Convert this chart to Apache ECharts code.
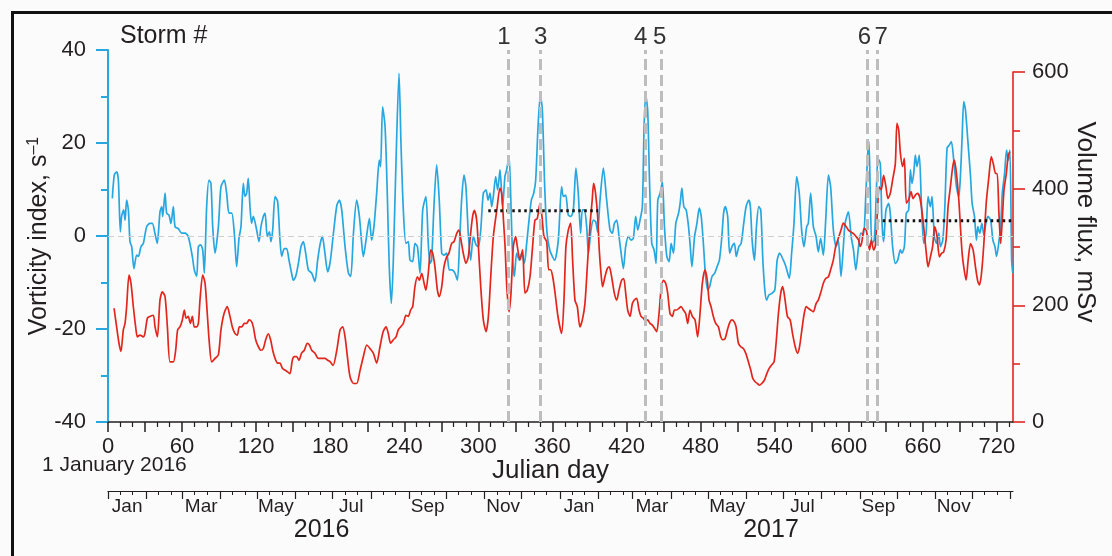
<!DOCTYPE html>
<html><head><meta charset="utf-8">
<script src="https://cdn.jsdelivr.net/npm/echarts@6/dist/echarts.min.js"></script>
<style>html,body{margin:0;padding:0;background:#fbfbfb}#c{width:1112px;height:556px}</style>
</head><body><div id="c"></div>
<script>
// ---------- data ----------
const vortDay = [3.5,5.1,7.0,8.4,10,11,12.7,13.8,15.1,16.5,17.8,19.2,21,23.2,24.6,26.7,28.6,31.3,34,35.9,38,39.9,42.1,43.5,44.3,46.2,47.5,49.4,51,52.9,54.3,56.9,59.7,62.4,65,68.3,69.9,71.8,73.2,75,76.7,78,79.9,81.8,83.4,84.8,86.7,89.4,91.5,94.2,96.1,98,100.2,102.3,104.2,106.1,107.7,109.6,110.9,112.3,113.6,115,116.3,117.7,120.4,122.3,123.9,125.8,127.2,129,130.7,132,133.4,135.3,137.4,139.3,140.7,142.8,144.7,146.6,148.7,150.1,152,154.2,156.3,158.2,160.1,162.3,165,167.6,169.8,171.7,173.6,175.7,177.9,
180,182.6,185.3,187.4,189.3,192,194.7,196.6,198.8,201.4,203.6,205.5,206.8,209,211.7,213.5,215.4,217.6,219.7,220.8,222.4,224.4,226.2,227.8,229.5,231.1,233.3,235.7,237.3,239.2,241.3,243.2,244.6,246.8,248.6,250.6,252.7,254.9,257.5,259.4,260.8,262.1,264,266.2,268.3,270.3,272.1,274.3,276.4,278.6,281,283,284.6,286.4,288.3,289.9,291.8,293.7,295.9,298.1,300,301.9,304,306.2,307.8,309.4,310.8,312.1,314,315.6,317.5,319.6,321.5,322.9,324.8,326.1,327.8,329.1,331,333.2,335.1,337.2,339.1,341,342.9,344.8,346.4,348.3,350.2,351.8,353.7,355.6,357.8,359.9,361.8,
364.7,367.4,368.8,370.7,372.8,375,376.9,379,380.9,382.8,384.2,385.8,387.7,389.1,391.2,393.1,395,396.6,398.5,401.2,403.9,406.6,408.5,410.1,412,413.9,415.6,417.4,419.3,421.5,423.6,425.5,427.4,429.1,430.9,432.8,434.2,435.5,437.1,438.5,440.4,442.3,443.9,445.3,447.2,449,450.7,452.6,454.5,456.1,458,459.9,462.1,463.4,464.8,466.4,468.3,470.2,471.6,472.9,475.1,477,478.9,480.5,482.4,483.8,485.7,487.3,489.2,491.4,493.3,495.2,497.2,498.6,500,501.9,503.5,505.4,507.3,508.9,510.9,512.8,514.9,516.8,519,520.3,521.7,523.6,525.2,527.1,528.7,530.4,532,533.4,535.3,538,540.1,542,544,
547,549.1,551.8,553.7,555.6,557.8,559.9,561.8,563.7,565.9,567.2,569.1,571.3,573.5,575.3,577.2,579.4,581.3,583.5,585.3,587.5,589.7,591.5,593.7,595.6,597,599.7,601.9,603.8,605.7,607.9,609.8,611.9,613.6,615.2,616.3,617.4,618.7,620.6,622.3,623.6,625.5,626.8,628.2,630.1,632.3,633.6,635.5,637.7,639.6,641.8,643.1,645,646.6,648.5,649.9,651.2,652.6,653.9,655.2,657.1,658.8,660.7,662.6,664.2,666.1,667.4,669.3,671,672.9,674.2,676.1,677.7,679.6,681.5,683.1,685,687.2,689.1,690.4,691.8,693.1,694.5,696.4,698.6,699.9,701.8,703.4,704.5,706.1,707.8,709.4,711,712.7,714.9,716.7,718.4,719.7,721.6,723,724.3,726.2,727.8,729.2,730.5,731.9,732.8];
const vortVal = [8.1,13.1,13.8,12,0.9,4.2,5.6,3.4,7.7,5.6,-1.2,-2.3,-7,-4.1,-4.4,-2.3,-1.6,2,2.7,2.7,0.6,-1.6,5.2,6.3,4.2,9.2,4.9,4.5,2.7,6.3,2,1.6,0.6,0.6,-0.1,-4.4,-7.3,-8.7,-2.3,-1.9,-3,-8,6.3,12,11.3,2,-3.7,2,10.6,12,9.2,4.9,4.9,0.6,-6.6,-0.5,2,11.3,8.5,9.2,12.4,6.3,2.7,4.2,1.3,-1.2,2,4.2,4.9,-0.1,0.9,-1.2,1.3,8.5,7.4,-0.9,-4.4,-2.7,-2.7,-5.2,-8,-9.5,-8.7,-5.9,-2.3,-1.2,-3.7,-7.3,-8,-9.8,-5.2,-1.9,-0.1,-3.7,-7.7,
-5.5,0.6,6.5,7.7,5.6,-2.3,-8,-8.7,0.6,7.7,4.2,-1.6,-4.4,-0.9,3.8,-0.9,2,9.2,16.3,14.9,27.8,23.5,9.2,-6.6,-14.5,-5.2,16.3,35,19.9,5.6,-1.6,-1.2,-5.2,-5.5,-1.6,-2.3,-8,5.6,8.5,-1.6,-5.9,-5.2,6.3,15.3,7.7,-3.7,-4.1,-3.7,-7.3,-7.3,-8,-9.5,-2.3,7.7,13.1,10.6,0.6,-5.2,-0.1,-1.9,-2.3,1.3,9.2,9.9,7.7,9.2,6.3,8.5,12.8,9.9,14.2,6.3,12.8,14.2,17.1,9.2,-5.2,-8.7,-3.7,-5.2,-3.7,-5.9,-1.6,3.4,7.7,9.2,12,23.5,30.3,27.1,10.6,0.6,-3,-4.4,-5.2,
-0.9,10.6,8.5,8.8,4.5,4.2,5.6,14.6,9.2,0.6,5.6,5.6,2,-3.7,1.3,3.4,3.1,0.9,7.7,14.6,7.7,1.3,0.6,2.7,3.4,-0.1,-3.7,-7,-2.3,-0.1,-0.9,-0.5,4.2,1.3,3.4,6.3,23.5,30.3,27.1,12.8,-1.6,-3,-5.9,7.7,9.2,11.7,2,-4.4,-5.5,-1.6,-3.7,2.7,4.9,7,10.3,6.3,5.6,2,-2.3,-6.6,-0.1,2.7,6,4.2,-2.3,-8,-11.6,-10.9,-8.7,-8,-6.6,-5.2,-0.1,4.9,6.3,4.2,-3.7,-2.3,-1.6,-4.4,-2.3,-1.6,2.7,6.3,7.7,6.3,-0.9,-5.2,2,6.3,5.6,-5.2,-11.6,-13.8,-12.7,-12.3,-11.6,-5.2,-3.7,
-5.2,-6.6,-9.1,-3.7,2.7,12.8,9.2,1.3,-2.3,2,2.7,9.2,2,-0.1,-3.4,-0.5,-4.1,3.4,13.1,10.6,1.3,-2.3,-0.9,-8.7,-2.3,2.7,5.2,-0.1,-3,-7.3,-2.3,0.6,0.2,7.7,17.1,20.3,9.2,-1.6,-0.9,9.2,16.7,15.6,3.4,-1.2,5.6,7,4.9,-2.3,-5.9,-5.2,-3,-3.7,-2.3,4.9,5.6,14.2,11.3,13.5,17.4,14.9,17.4,7,-1.6,0.6,8.5,6.3,8.5,-0.1,-1.6,0.6,-2.3,-0.9,5.6,18.9,19.6,20.3,16.3,10.6,8.5,12.8,21.4,28.9,27.1,20.6,12.8,7,4.2,-0.9,2,0.6,2.7,0.2,2.7,4.2,3.4,-0.9,-2.3,-4.4,-1.2,2,9.2,13.5,18.5,16.3,18.5,-5.2,-8];

const fluxDay = [4.9,7,8.9,10.5,12.4,13.8,15.1,17,18.6,20.5,22.4,23.8,25.9,28.6,29.9,31.9,34,36.7,38.1,40,42.1,44,46.2,48.1,50.2,52.9,54.8,56.4,58.3,60.2,61.8,63.2,65,66.7,68.3,69.9,71.8,73.2,74.5,76.7,78.6,80.4,82.1,84,86.7,89.4,91.5,94,96.6,98.8,100.7,102.8,104.7,106.4,108.3,110.4,112.3,114.2,116.3,117.7,119.6,121.8,123.9,125.8,127.7,129.8,131.7,133.4,135.3,137.4,139.3,141.2,143.3,145.5,147.4,149.3,150.9,152.8,154.7,156.8,159,161.4,163.1,165,167.6,170.4,173,175.7,177.9,
180,182.3,185.3,188,190.1,192,193.9,196,198.8,201.4,204.2,206.8,209.6,212.2,214.9,217.6,220.3,222.9,225.2,227,228.9,231.1,233.3,235.1,237,239.2,241.3,243.2,245.1,246.8,248.6,250.6,252.2,254.1,256,257.5,259.4,261.4,263,264.8,266.8,268.3,270.3,272.1,274.3,276.1,278.3,280.2,282.4,284.2,285.9,287.8,289.9,291.8,293.7,295.3,296.7,298.6,300,301.9,304,306.2,308.1,310,312.1,314.9,317.5,318.9,320.3,321.6,323,324.8,326.4,328.3,330.2,331.5,333.7,335.8,337.7,339.6,341.8,343.9,345.8,347.7,349.9,351.5,353.1,355.3,356.9,358.5,360.2,362.1,
364.5,367.4,369.3,370.9,372.8,374.7,376.3,378.2,380.1,382.2,384.2,386.3,388.2,390.3,392.2,393.3,394.9,396.6,397.9,399.3,400.6,402.5,404.4,406,407.9,410.1,412,413.9,416,417.7,419.3,420.9,422.8,424.7,426.3,428.2,430.1,431.7,433.6,435.5,437.1,439,440.9,442.5,444.4,446.3,447.9,449.8,451.7,453.3,455.2,457.1,458.8,460.6,462.5,464.1,466,467.9,469.5,471.4,473.3,475.5,477.6,479.5,481.4,483.5,485.4,486.8,488.4,490.3,492.2,494.4,496.3,497.9,499.8,501.7,503.3,505.2,507.1,508.7,510.6,512.5,514.6,516.5,518.7,520.6,522.2,524.1,526,527.6,529.5,531.7,533.6,535.5,537.6,539.5,541.1,543,544.9,546.5,548.4,550.3,
552.5,554.4,556.6,558.5,560.1,562,563.9,565.5,567.2,569.1,571.3,573.5,575.3,577.2,579.4,581.3,583.5,585.3,587.5,589.4,591.5,593.7,595.6,597.8,599.7,601.6,603.8,605.9,607.9,609.2,610.6,612.4,614.1,615.8,616.8,618.2,620.1,621.4,623.3,624.6,626.3,628.2,630.1,631.7,633.6,635.5,637.7,639,640.4,641.8,643.6,645,646.6,648.5,650.4,652,653.9,655.7,657.4,659.3,661.2,662.8,664.2,666.1,667.9,669.6,671.5,673.4,675,676.9,678.8,680.4,682.3,684.2,685.5,687.2,689.1,690.4,691.8,693.1,695,696.7,698.6,700.7,702.6,704.5,705.9,707.5,709.4,711.3,713.5,715.4,717,718.9,720.2,721.6,723,724.3,725.7,727.6,729.2,730.5];
const fluxVal = [195,163,135,121,158,169,198,252,238,198,163,146,149,146,152,178,181,183,163,146,209,223,215,163,103,103,123,158,163,175,192,178,181,169,181,163,163,169,209,252,238,186,135,103,109,115,158,186,198,181,163,152,149,163,163,169,169,175,172,163,141,129,123,126,141,151,141,123,109,101,101,92,89,86,83,106,112,112,106,118,123,135,132,123,118,109,109,109,106,
103,97,123,158,163,146,112,78,66,66,89,112,132,126,118,101,129,155,163,152,135,141,146,158,163,169,183,181,192,198,232,249,243,255,238,226,255,295,289,266,226,215,232,266,283,289,306,309,323,329,312,289,272,283,323,352,363,346,301,232,175,155,181,249,318,363,401,392,346,301,232,189,221,301,318,301,278,295,221,226,249,301,346,349,375,352,318,309,261,261,249,221,
180,152,209,301,329,341,278,209,198,163,175,203,266,335,381,409,392,352,295,255,232,249,263,266,249,221,209,226,243,246,221,192,181,203,209,212,192,181,178,172,175,169,166,161,155,186,226,243,238,221,186,181,192,192,195,198,192,186,169,192,181,175,146,186,238,261,243,209,198,181,169,163,146,141,143,158,169,175,172,163,135,129,126,118,103,89,75,69,66,63,66,72,83,92,98,103,135,186,221,232,209,181,
175,152,129,118,129,158,186,198,195,192,189,203,209,221,238,246,249,261,278,301,315,329,341,335,329,326,323,318,312,301,309,332,329,306,295,312,295,301,363,403,398,423,403,383,392,415,443,512,501,461,438,452,375,381,395,383,389,392,386,361,323,289,266,283,301,335,318,283,289,292,312,369,403,438,449,426,381,335,289,266,243,278,306,295,266,241,235,255,306,375,421,455,443,426,426,358,306,346,398,426,458,463];

// mean volume flux segments (dotted black)
const meanADays = [308, 397];
const meanAFlux = 362;
const meanBDays = [622.6, 733];
const meanBFlux = 345;

// storms
const stormDays = [324, 350.5, 435.5, 448.5, 615, 623];
const stormLabels = ['1', '3', '4', '5', '6', '7'];

// Julian-day axis ticks
const dayLabelTicks = [0,60,120,180,240,300,360,420,480,540,600,660,720];
const dayMajorTicks = [0,30,60,90,120,150,180,210,240,270,300,330,360,390,420,450,480,510,540,570,600,630,660,690,720];
const dayMinorTicks = [10,20,40,50,70,80,100,110,130,140,160,170,190,200,220,230,250,260,280,290,310,320,340,350,370,380,400,410,430,440,460,470,490,500,520,530,550,560,580,590,610,620,640,650,670,680,700,710,730];

// calendar axis
const monthStarts = [0,31,60,91,121,152,182,213,244,274,305,335,366,397,425,456,486,517,547,578,609,639,670,700,731];
const monthLabelDays = [15.5,75.5,136,197,259,320,381.5,440.5,501.5,562.5,624,685];
const monthLabels = ['Jan','Mar','May','Jul','Sep','Nov','Jan','Mar','May','Jul','Sep','Nov'];
const yearLabelDays = [173, 537];
const yearLabels = ['2016', '2017'];

// ---------- chart ----------
const FONT = '"Liberation Sans", Arial, sans-serif';
const CYAN = '#27a7df';
const RED = '#e2261d';
const INK = '#231f20';

const monthMinor = [];
for (let i = 0; i < monthStarts.length - 1; i++) {
  monthMinor.push(monthStarts[i] + 10, monthStarts[i] + 20);
}

const vortData = vortDay.map((d, i) => [d, vortVal[i]]);
const fluxData = fluxDay.map((d, i) => [d, fluxVal[i]]);

const chart = echarts.init(document.getElementById('c'), null, {renderer: 'canvas'});
const baseX = {type: 'value', min: 0, max: 733, position: 'bottom', splitLine: {show: false}};

// per-storm label nudges (padding shifts centred text sideways)
const stormPad = [[0, 8, 0, 0], [0, 0, 0, 0], [0, 10, 0, 0], [0, 4, 0, 0], [0, 6, 0, 0], [0, 0, 0, 8]];

const option = {
  backgroundColor: '#fbfbfb',
  animation: false,
  textStyle: {fontFamily: FONT},
  grid: [
    {left: 108, right: 99, top: 50, bottom: 134},
    {left: 108, right: 99, top: 72, bottom: 134}
  ],
  xAxis: [
    Object.assign({}, baseX, {
      gridIndex: 0,
      axisLine: {onZero: false, lineStyle: {color: INK, width: 1.5}},
      axisTick: {customValues: dayMajorTicks, length: 10, lineStyle: {color: INK, width: 1.5}},
      axisLabel: {customValues: dayLabelTicks, fontSize: 22, color: INK, margin: 14, fontFamily: FONT},
      name: 'Julian day', nameLocation: 'middle', nameGap: 36, nameMoveOverlap: false,
      nameTextStyle: {fontSize: 26, color: INK, fontFamily: FONT, padding: [0, 20, 0, 0]}
    }),
    Object.assign({}, baseX, {
      gridIndex: 0,
      axisLine: {show: false, onZero: false},
      axisTick: {customValues: dayMinorTicks, length: 5, lineStyle: {color: INK, width: 1.2}},
      axisLabel: {show: false}
    }),
    Object.assign({}, baseX, {
      gridIndex: 0, offset: 69,
      axisLine: {onZero: false, lineStyle: {color: INK, width: 1.2}},
      axisTick: {customValues: monthStarts, length: 8, lineStyle: {color: INK, width: 1.2}},
      axisLabel: {customValues: monthLabelDays, fontSize: 19, color: INK, margin: 6, fontFamily: FONT,
        formatter: v => monthLabels[monthLabelDays.indexOf(v)] || ''}
    }),
    Object.assign({}, baseX, {
      gridIndex: 0, offset: 69,
      axisLine: {show: false, onZero: false},
      axisTick: {customValues: monthMinor, length: 4, lineStyle: {color: INK, width: 1}},
      axisLabel: {show: false}
    }),
    Object.assign({}, baseX, {
      gridIndex: 0, offset: 69,
      axisLine: {show: false, onZero: false},
      axisTick: {show: false},
      axisLabel: {customValues: yearLabelDays, fontSize: 25, color: INK, margin: 27, fontFamily: FONT,
        formatter: v => yearLabels[yearLabelDays.indexOf(v)] || ''}
    }),
    Object.assign({}, baseX, {gridIndex: 1, show: false, axisLine: {onZero: false}})
  ],
  yAxis: [
    {
      type: 'value', gridIndex: 0, position: 'left', min: -40, max: 40, interval: 20,
      splitLine: {show: false},
      axisLine: {show: true, onZero: false, lineStyle: {color: CYAN, width: 2}},
      axisTick: {show: true, length: 12, lineStyle: {color: CYAN, width: 2}},
      minorTick: {show: true, splitNumber: 2, length: 7, lineStyle: {color: CYAN, width: 2}},
      axisLabel: {fontSize: 22, color: INK, margin: 22, fontFamily: FONT},
      name: 'Vorticity index, s{sup|–1}', nameLocation: 'middle', nameRotate: 90, nameGap: 55,
      nameMoveOverlap: false,
      nameTextStyle: {fontSize: 25, color: INK, fontFamily: FONT, lineHeight: 27,
        rich: {sup: {fontSize: 16, verticalAlign: 'top', lineHeight: 14, color: INK, fontFamily: FONT}}}
    },
    {
      type: 'value', gridIndex: 1, position: 'right', min: 0, max: 600, interval: 200,
      splitLine: {show: false},
      axisLine: {show: true, onZero: false, lineStyle: {color: RED, width: 1.6}},
      axisTick: {show: true, length: 12, lineStyle: {color: RED, width: 1.6}},
      minorTick: {show: true, splitNumber: 2, length: 7, lineStyle: {color: RED, width: 1.6}},
      axisLabel: {fontSize: 22, color: INK, margin: 19, fontFamily: FONT},
      name: 'Volume flux, mSv', nameLocation: 'middle', nameRotate: -90, nameGap: 59,
      nameMoveOverlap: false,
      nameTextStyle: {fontSize: 26, color: INK, fontFamily: FONT, padding: [0, 50, 0, 0]}
    }
  ],
  series: [
    {
      type: 'line', xAxisIndex: 0, yAxisIndex: 0, data: [], silent: true,
      markLine: {silent: true, symbol: 'none', label: {show: false},
        lineStyle: {color: '#cfcfcf', type: [6, 4], width: 1.2},
        data: [{yAxis: 0}]}
    },
    {
      name: 'Vorticity', type: 'line', xAxisIndex: 0, yAxisIndex: 0, data: vortData,
      showSymbol: false, symbol: 'none', smooth: 0.25,
      lineStyle: {color: CYAN, width: 1.7}
    },
    {
      name: 'Volume flux', type: 'line', xAxisIndex: 5, yAxisIndex: 1, data: fluxData,
      showSymbol: false, symbol: 'none', smooth: 0.25,
      lineStyle: {color: RED, width: 1.7}
    },
    {
      type: 'line', xAxisIndex: 5, yAxisIndex: 1, data: meanADays.map(d => [d, meanAFlux]),
      showSymbol: false, symbol: 'none',
      lineStyle: {color: '#111', width: 3, type: [2.5, 3.5]}
    },
    {
      type: 'line', xAxisIndex: 5, yAxisIndex: 1, data: meanBDays.map(d => [d, meanBFlux]),
      showSymbol: false, symbol: 'none',
      lineStyle: {color: '#111', width: 3, type: [2.5, 3.5]}
    },
    {
      type: 'line', xAxisIndex: 0, yAxisIndex: 0, data: [], silent: true,
      markLine: {
        silent: true, symbol: 'none',
        lineStyle: {color: '#bdbdbd', type: [11, 5], width: 3},
        label: {show: true, position: 'end', fontSize: 24, color: '#333', fontFamily: FONT, distance: 1},
        data: stormDays.map((d, i) => ({
          xAxis: d,
          label: {formatter: stormLabels[i], padding: stormPad[i]}
        }))
      }
    }
  ],
  graphic: [
    {type: 'rect', left: 10, top: 10, silent: true, z: 100,
      shape: {x: 0, y: 0, width: 1120, height: 570},
      style: {fill: 'none', stroke: '#111', lineWidth: 3}},
    {type: 'text', left: 120, top: 24, silent: true,
      style: {text: 'Storm #', fontSize: 25, fill: INK, fontFamily: FONT}},
    {type: 'text', left: 42, top: 455, silent: true,
      style: {text: '1 January 2016', fontSize: 21, fill: INK, fontFamily: FONT}}
  ]
};
chart.setOption(option);
</script>
</body></html>
